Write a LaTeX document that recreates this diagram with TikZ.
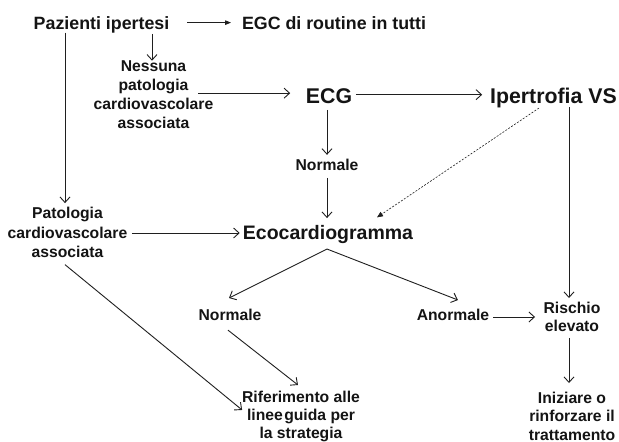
\documentclass[tikz,border=0pt]{standalone}
\usepackage{fontspec}
\setmainfont{Liberation Sans}
\usetikzlibrary{arrows.meta}
\definecolor{txt}{gray}{0.08}
\definecolor{lin}{gray}{0.12}
\begin{document}
\begin{tikzpicture}[x=1pt,y=-1pt,
  lbl/.style={inner sep=0pt,outer sep=0pt,anchor=base,text=txt,align=center},
  fbig/.style={font=\fontsize{17.8}{20}\selectfont\bfseries},
  fhuge/.style={font=\fontsize{21.3}{24}\selectfont\bfseries},
  feco/.style={font=\fontsize{19.5}{22}\selectfont\bfseries},
  fsm/.style={font=\fontsize{15.7}{#1}\selectfont\bfseries},
  fsm/.default=19,
  arr/.style={draw=lin,line width=0.9pt,-{Straight Barb[length=5.5pt,width=10pt,line width=0.9pt]}},
  tri/.style={draw=lin,line width=0.9pt,-{Triangle[length=6pt,width=4.5pt]}},
  dsh/.style={draw=lin,line width=0.6pt,dash pattern=on 2pt off 1.5pt,-{Triangle[length=6pt,width=5pt]}}]
\useasboundingbox[fill=white] (0,0) rectangle (619,442);

\node[lbl,fbig] (paz) at (101.5,29) {Pazienti ipertesi};
\node[lbl,fbig] (egc) at (334,29) {EGC di routine in tutti};
\node[lbl,fsm=19] (ness) at (153.5,128.5) {Nessuna\\patologia\\cardiovascolare\\associata};
\node[lbl,fhuge] (ecg) at (329,103) {ECG};
\node[lbl,fhuge] (iper) at (553.5,103) {Ipertrofia VS};
\node[lbl,fsm] (norm1) at (327,170.5) {Normale};
\node[lbl,feco] (eco) at (328,239.5) {Ecocardiogramma};
\node[lbl,fsm=19.5] (pat) at (67.5,257.5) {Patologia\\cardiovascolare\\associata};
\node[lbl,fsm] (norm2) at (230,320) {Normale};
\node[lbl,fsm] (anorm) at (453,320) {Anormale};
\node[lbl,fsm=18] (risc) at (572,331) {Rischio\\elevato};
\node[lbl,fsm=18.5] (iniz) at (572,440) {Iniziare o\\rinforzare il\\trattamento};
\node[lbl,fsm=18] (rif) at (301,438) {Riferimento alle\\linee\hspace{1.5pt}guida per\\la strategia};

% connectors
\draw[tri] ([xshift=18pt]paz.east |- egc.west) -- ([xshift=-11pt]egc.west);
\draw[arr,shorten <=1.3pt] ([xshift=-1.5pt]ness.north |- paz.south) -- ([xshift=-1.5pt]ness.north);
\draw[arr,shorten >=4pt] ([xshift=-2.5pt]pat.north |- paz.south) -- ([xshift=-2.5pt]pat.north);
\draw[arr,shorten >=15.7pt] ([xshift=-15pt,yshift=1.5pt]ness.east) -- ([yshift=1.5pt]ness.east -| ecg.west);
\draw[arr,shorten <=3.7pt,shorten >=8pt] ([yshift=1pt]ecg.east) -- ([yshift=1pt]ecg.east -| iper.west);
\draw[arr,shorten <=6.7pt,shorten >=4.3pt] (ecg.south -| norm1.north) -- (norm1.north);
\draw[arr,shorten <=7.3pt,shorten >=7.3pt] (norm1.south) -- (norm1.south |- eco.north);
\draw[dsh] ([xshift=-14.5pt,yshift=-0.6pt]iper.south) -- ([xshift=49pt,yshift=8pt]eco.north);
\draw[arr,shorten >=3.6pt] ([xshift=-3pt]risc.north |- iper.south) -- ([xshift=-3pt]risc.north);
\draw[arr,shorten <=4.7pt,shorten >=3.2pt] ([yshift=-0.6pt]pat.east) -- ([yshift=-0.6pt]pat.east -| eco.west);
\draw[arr] ([xshift=-2.5pt,yshift=-7pt]pat.south) -- ([yshift=6pt]rif.west);
\draw[arr] ([xshift=-1pt,yshift=-5.4pt]eco.south) -- ([xshift=-1pt,yshift=10.6pt]norm2.north);
\draw[arr] ([xshift=-1pt,yshift=-5.4pt]eco.south) -- ([xshift=5pt,yshift=8.6pt]anorm.north);
\draw[arr,shorten <=3.8pt,shorten >=8.6pt] ([yshift=-2.6pt]anorm.east) -- ([yshift=-2.6pt]anorm.east -| risc.west);
\draw[arr,shorten <=6.8pt,shorten >=8.6pt] ([xshift=-3pt]risc.south) -- ([xshift=-3pt]risc.south |- iniz.north);
\draw[arr] ([xshift=-2pt,yshift=-10pt]norm2.south) -- ([xshift=-3pt,yshift=5.6pt]rif.north);
\end{tikzpicture}
\end{document}
